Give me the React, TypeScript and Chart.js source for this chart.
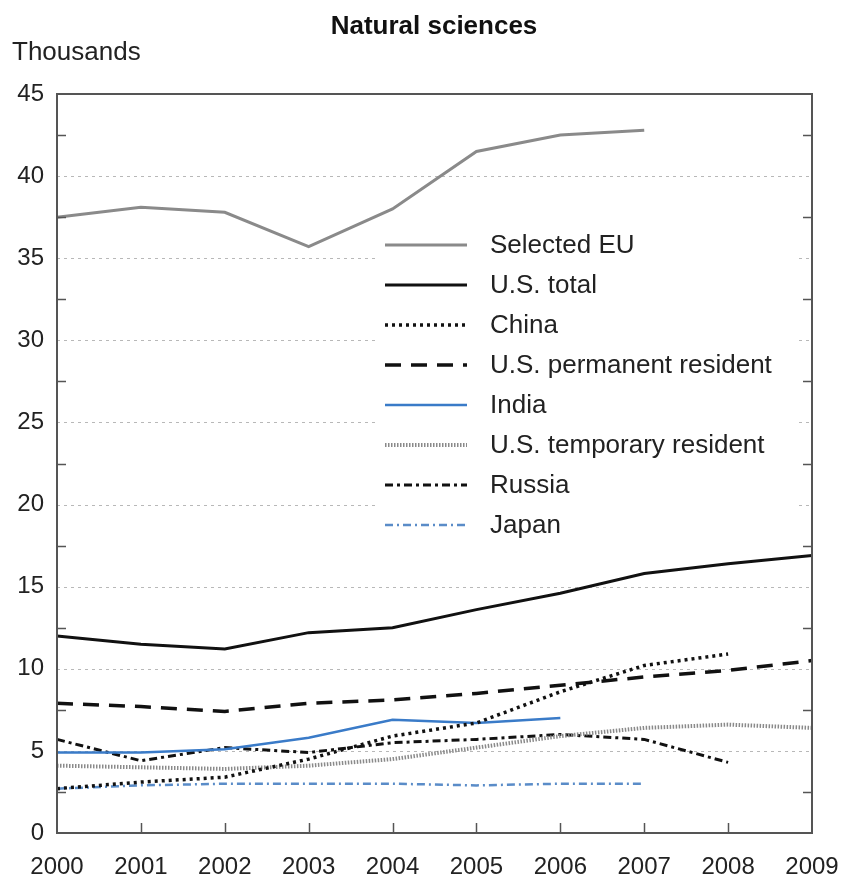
import React, { useEffect, useRef } from "react";
import { Chart, registerables } from "chart.js";

Chart.register(...registerables);

const years = ["2000", "2001", "2002", "2003", "2004", "2005", "2006", "2007", "2008", "2009"];
const selectedEU = [37.5, 38.1, 37.8, 35.7, 38.0, 41.5, 42.5, 42.8, null, null];
const usTotal = [12.0, 11.5, 11.2, 12.2, 12.5, 13.6, 14.6, 15.8, 16.4, 16.9];
const china = [2.7, 3.1, 3.4, 4.5, 5.9, 6.7, 8.6, 10.2, 10.9, null];
const usPermanent = [7.9, 7.7, 7.4, 7.9, 8.1, 8.5, 9.0, 9.5, 9.9, 10.5];
const india = [4.9, 4.9, 5.1, 5.8, 6.9, 6.7, 7.0, null, null, null];
const usTemporary = [4.1, 4.0, 3.9, 4.1, 4.5, 5.2, 5.9, 6.4, 6.6, 6.4];
const russia = [5.7, 4.4, 5.2, 4.9, 5.5, 5.7, 6.0, 5.7, 4.3, null];
const japan = [2.7, 2.9, 3.0, 3.0, 3.0, 2.9, 3.0, 3.0, null, null];

const yTicks = [0, 5, 10, 15, 20, 25, 30, 35, 40, 45];
const minorTicks = [2.5, 7.5, 12.5, 17.5, 22.5, 27.5, 32.5, 37.5, 42.5];

const TITLE = "Natural sciences";
const Y_TITLE = "Thousands";
const FONT = "'Liberation Sans', Arial, Helvetica, sans-serif";

export default function App() {
  const ref = useRef<HTMLCanvasElement>(null);

  useEffect(() => {
    const mk = (label: string, data: (number | null)[], color: string, width: number, dash: number[]) => ({
      label,
      data,
      borderColor: color,
      backgroundColor: color,
      borderWidth: width,
      borderDash: dash,
      borderCapStyle: "butt" as const,
      pointRadius: 0,
      tension: 0,
      spanGaps: false,
      fill: false,
    });

    const datasets = [
      mk("Selected EU", selectedEU, "#8a8a8a", 3, []),
      mk("U.S. total", usTotal, "#111111", 3, []),
      mk("China", china, "#111111", 3.5, [3, 4]),
      mk("U.S. permanent resident", usPermanent, "#111111", 3.5, [16, 10]),
      mk("India", india, "#3a7bc8", 2.5, []),
      mk("U.S. temporary resident", usTemporary, "#8a8a8a", 4, [1.5, 1.5]),
      mk("Russia", russia, "#111111", 3, [8, 4, 3, 4]),
      mk("Japan", japan, "#5a8cc8", 2.5, [8, 4, 2, 4]),
    ];

    const deco = {
      id: "deco",
      beforeDatasetsDraw(chart: any) {
        const { ctx, chartArea, scales } = chart;
        const { left, right, top } = chartArea;
        const y = scales.y;
        ctx.save();
        ctx.strokeStyle = "#b8b8b8";
        ctx.lineWidth = 1;
        ctx.setLineDash([3, 4]);
        yTicks.forEach((v) => {
          if (v === 0 || v === 45) return;
          const py = Math.round(y.getPixelForValue(v)) + 0.5;
          ctx.beginPath();
          ctx.moveTo(left, py);
          ctx.lineTo(right, py);
          ctx.stroke();
        });
        ctx.setLineDash([]);
        // legend background
        ctx.fillStyle = "#ffffff";
        ctx.fillRect(left + 318, top + 128, right - left - 332, 323);
        ctx.restore();
      },
      afterDatasetsDraw(chart: any) {
        const { ctx, chartArea, scales } = chart;
        const { left, right, top, bottom } = chartArea;
        const x = scales.x;
        const y = scales.y;
        ctx.save();
        // border
        ctx.strokeStyle = "#555555";
        ctx.lineWidth = 2;
        ctx.setLineDash([]);
        ctx.strokeRect(left, top, right - left, bottom - top);
        // bottom ticks
        ctx.lineWidth = 1.5;
        for (let i = 1; i < years.length - 1; i++) {
          const px = Math.round(x.getPixelForValue(i)) + 0.5;
          ctx.beginPath();
          ctx.moveTo(px, bottom);
          ctx.lineTo(px, bottom - 10);
          ctx.stroke();
        }
        // side minor ticks
        minorTicks.forEach((v) => {
          const py = Math.round(y.getPixelForValue(v)) + 0.5;
          ctx.beginPath();
          ctx.moveTo(left, py);
          ctx.lineTo(left + 9, py);
          ctx.moveTo(right, py);
          ctx.lineTo(right - 9, py);
          ctx.stroke();
        });
        // legend
        const lx0 = left + 328;
        const lx1 = left + 410;
        const tx = left + 433;
        let ly = top + 151;
        chart.data.datasets.forEach((ds: any) => {
          ctx.strokeStyle = ds.borderColor;
          ctx.lineWidth = ds.borderWidth;
          ctx.setLineDash(ds.borderDash || []);
          ctx.lineCap = "butt";
          ctx.beginPath();
          ctx.moveTo(lx0, ly);
          ctx.lineTo(lx1, ly);
          ctx.stroke();
          ctx.setLineDash([]);
          ctx.fillStyle = "#222222";
          ctx.font = `26px ${FONT}`;
          ctx.textAlign = "left";
          ctx.textBaseline = "middle";
          ctx.fillText(ds.label, tx, ly + 1);
          ly += 40;
        });
        // title
        ctx.fillStyle = "#111111";
        ctx.font = `bold 26px ${FONT}`;
        ctx.textAlign = "center";
        ctx.textBaseline = "middle";
        ctx.fillText(TITLE, 434, 27);
        ctx.fillStyle = "#222222";
        ctx.font = `26px ${FONT}`;
        ctx.textAlign = "left";
        ctx.fillText(Y_TITLE, 12, 53);
        ctx.restore();
      },
    };

    const chart = new Chart(ref.current!, {
      type: "line",
      data: { labels: years, datasets },
      options: {
        animation: false,
        responsive: false,
        maintainAspectRatio: false,
        devicePixelRatio: 1,
        layout: { padding: { top: 94, right: 32, left: 0, bottom: 0 } },
        plugins: { legend: { display: false }, tooltip: { enabled: false }, title: { display: false } },
        scales: {
          x: {
            type: "category",
            offset: false,
            grid: { display: false, drawTicks: false },
            border: { display: false },
            ticks: {
              color: "#222222",
              font: { family: FONT, size: 24 },
              padding: 20,
              maxRotation: 0,
              autoSkip: false,
            },
            afterFit: (s: any) => {
              s.height = 48;
              s.paddingLeft = 0;
              s.paddingRight = 0;
            },
          },
          y: {
            min: 0,
            max: 45,
            grid: { display: false, drawTicks: false },
            border: { display: false },
            ticks: {
              stepSize: 5,
              color: "#222222",
              font: { family: FONT, size: 24 },
              padding: 13,
            },
            afterFit: (s: any) => {
              s.width = 57;
              s.paddingTop = 0;
              s.paddingBottom = 0;
            },
          },
        },
      },
      plugins: [deco],
    } as any);
    return () => chart.destroy();
  }, []);

  return (
    <div style={{ position: "fixed", left: 0, top: 0, width: 844, height: 881, background: "#fff" }}>
      <canvas ref={ref} width={844} height={881} style={{ display: "block", width: 844, height: 881 }} />
    </div>
  );
}
